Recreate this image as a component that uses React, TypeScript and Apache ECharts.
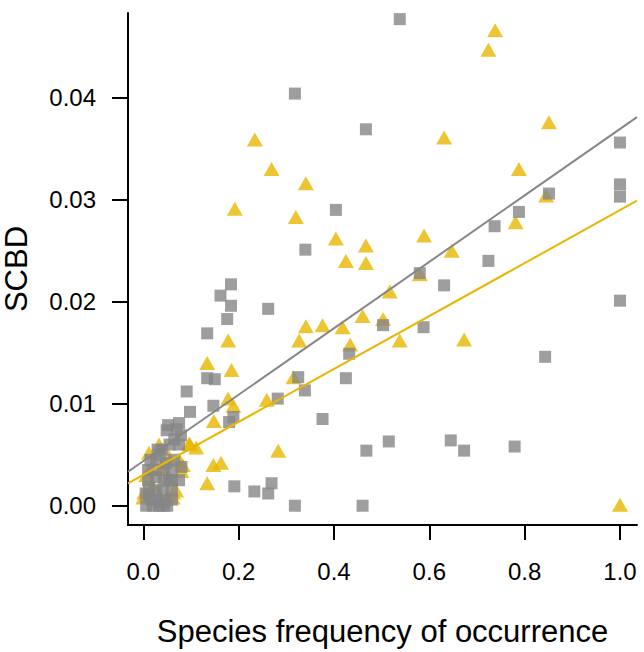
import React, { useEffect, useRef } from "react";
import * as echarts from "echarts";

// Grey squares: [species frequency of occurrence, SCBD]
const greyPoints: number[][] = [
  [0.538, 0.0477], [0.467, 0.0369], [1.0, 0.0356], [1.0, 0.0315], [1.0, 0.0303],
  [0.851, 0.0306], [0.404, 0.029], [0.788, 0.0288], [0.737, 0.0274], [0.724, 0.024],
  [0.58, 0.0228], [0.631, 0.0216], [1.0, 0.0201], [0.503, 0.0177], [0.588, 0.0175],
  [0.432, 0.0149], [0.425, 0.0125], [0.843, 0.0146], [0.376, 0.0085], [0.515, 0.0063],
  [0.468, 0.0054], [0.645, 0.0064], [0.673, 0.0054], [0.779, 0.0058], [0.46, 0.0],
  [0.318, 0.0404], [0.34, 0.0251], [0.184, 0.0217], [0.162, 0.0206], [0.184, 0.0196],
  [0.262, 0.0193], [0.176, 0.0183], [0.134, 0.0169], [0.134, 0.0125], [0.15, 0.0124],
  [0.325, 0.0126], [0.339, 0.0113], [0.282, 0.0105], [0.091, 0.0112], [0.147, 0.0098],
  [0.098, 0.0092], [0.189, 0.0087], [0.18, 0.0082], [0.191, 0.0019], [0.233, 0.0014],
  [0.269, 0.0022], [0.262, 0.0012], [0.318, 0.0],
  [0.075, 0.0081], [0.052, 0.0079], [0.079, 0.0069], [0.075, 0.006], [0.049, 0.0074],
  [0.027, 0.0045], [0.048, 0.0042], [0.027, 0.0028], [0.054, 0.0025], [0.075, 0.0025],
  [0.012, 0.0018], [0.041, 0.0015], [0.012, 0.0009], [0.033, 0.0003], [0.006, 0.0],
  [0.033, 0.0], [0.02, 0.0035], [0.06, 0.0035], [0.005, 0.0012], [0.018, 0.0006],
  [0.045, 0.0005], [0.065, 0.0045], [0.03, 0.0055], [0.08, 0.0038],
  [0.01, 0.0035], [0.043, 0.0035], [0.06, 0.0025], [0.01, 0.0025], [0.043, 0.0025],
  [0.027, 0.0015], [0.06, 0.0015], [0.027, 0.0006], [0.06, 0.0006], [0.043, 0.0],
  [0.015, 0.0045], [0.04, 0.0055], [0.055, 0.006], [0.065, 0.0065], [0.07, 0.0075],
  [0.035, 0.005], [0.02, 0.0], [0.05, 0.0],
];

// Yellow triangles: [species frequency of occurrence, SCBD]
const yellowPoints: number[][] = [
  [0.738, 0.0466], [0.724, 0.0447], [0.631, 0.0361], [0.851, 0.0376], [0.788, 0.033],
  [0.845, 0.0304], [0.781, 0.0278], [0.404, 0.0262], [0.589, 0.0265], [0.467, 0.0255],
  [0.425, 0.024], [0.467, 0.0238], [0.647, 0.025], [0.58, 0.0227], [0.517, 0.021],
  [0.46, 0.0186], [0.503, 0.0183], [0.376, 0.0177], [0.418, 0.0175], [0.538, 0.0162],
  [0.673, 0.0163], [0.434, 0.0158], [1.0, 0.0001], [0.234, 0.0359], [0.269, 0.033],
  [0.341, 0.0316], [0.192, 0.0291], [0.32, 0.0283], [0.341, 0.0176], [0.327, 0.0162],
  [0.178, 0.0162], [0.134, 0.014], [0.185, 0.0133], [0.315, 0.0126], [0.178, 0.0105],
  [0.189, 0.0098], [0.259, 0.0104], [0.148, 0.0083], [0.283, 0.0054], [0.147, 0.004],
  [0.163, 0.0042], [0.134, 0.0022], [0.098, 0.006],
  [0.033, 0.006], [0.012, 0.0052], [0.096, 0.0061], [0.111, 0.0057], [0.075, 0.0045],
  [0.083, 0.004], [0.054, 0.0048], [0.006, 0.003], [0.054, 0.0028], [0.062, 0.0013],
  [0.069, 0.0015], [0.048, 0.0008], [0.002, 0.0013], [0.0, 0.0008], [0.062, 0.0008],
  [0.08, 0.0034], [0.04, 0.0038], [0.02, 0.002],
];

// Fitted regression lines: [intercept, slope]
const greyFit = [0.00437, 0.03256];
const yellowFit = [0.00303, 0.02594];

const xTicks = [0, 0.2, 0.4, 0.6, 0.8, 1.0];
const yTicks = [0, 0.01, 0.02, 0.03, 0.04];

const X_MIN = -0.0321;
const X_MAX = 1.0357;
const Y_MIN = -0.00189;
const Y_MAX = 0.0483;

const GREY = "#868686";
const YELLOW = "#E9B700";
const FONT = "Arial, 'Liberation Sans', sans-serif";

function fitLine(fit: number[]) {
  return [
    [X_MIN, fit[0] + fit[1] * X_MIN],
    [X_MAX, fit[0] + fit[1] * X_MAX],
  ];
}

export default function App() {
  const ref = useRef<HTMLDivElement>(null);

  useEffect(() => {
    if (!ref.current) return;
    const chart = echarts.init(ref.current, undefined, { renderer: "svg" });
    chart.setOption({
      animation: false,
      backgroundColor: "#ffffff",
      grid: {
        left: 128,
        top: 13,
        width: 509,
        height: 512,
        containLabel: false,
        outerBoundsMode: "none",
      },
      xAxis: {
        type: "value",
        min: X_MIN,
        max: X_MAX,
        name: "Species frequency of occurrence",
        nameLocation: "middle",
        nameGap: 91,
        nameTextStyle: { fontSize: 31, color: "#000", fontFamily: FONT },
        axisLine: { show: true, onZero: false, lineStyle: { color: "#000", width: 2 } },
        axisTick: { show: true, customValues: xTicks, length: 15, lineStyle: { color: "#000", width: 2 } },
        axisLabel: {
          customValues: xTicks,
          margin: 34,
          fontSize: 24,
          color: "#000",
          fontFamily: FONT,
          formatter: (v: number) => v.toFixed(1),
        },
        splitLine: { show: false },
      },
      yAxis: {
        type: "value",
        min: Y_MIN,
        max: Y_MAX,
        name: "SCBD",
        nameLocation: "middle",
        nameGap: 96,
        nameTextStyle: { fontSize: 31, color: "#000", fontFamily: FONT },
        axisLine: { show: true, onZero: false, lineStyle: { color: "#000", width: 2 } },
        axisTick: { show: true, customValues: yTicks, length: 16, lineStyle: { color: "#000", width: 2 } },
        axisLabel: {
          customValues: yTicks,
          margin: 32,
          fontSize: 24,
          color: "#000",
          fontFamily: FONT,
          formatter: (v: number) => v.toFixed(2),
        },
        splitLine: { show: false },
      },
      series: [
        {
          type: "scatter",
          data: yellowPoints,
          symbol: "triangle",
          symbolSize: [16, 14],
          itemStyle: { color: YELLOW },
          z: 2,
        },
        {
          type: "scatter",
          data: greyPoints,
          symbol: "rect",
          symbolSize: 12,
          itemStyle: { color: GREY },
          z: 3,
        },
        {
          type: "line",
          data: fitLine(greyFit),
          symbol: "none",
          lineStyle: { color: GREY, width: 2 },
          z: 4,
        },
        {
          type: "line",
          data: fitLine(yellowFit),
          symbol: "none",
          lineStyle: { color: YELLOW, width: 2 },
          z: 4,
        },
      ],
    });
    return () => chart.dispose();
  }, []);

  return (
    <div
      ref={ref}
      style={{ position: "fixed", left: 0, top: 0, width: 644, height: 652, background: "#fff" }}
    />
  );
}
